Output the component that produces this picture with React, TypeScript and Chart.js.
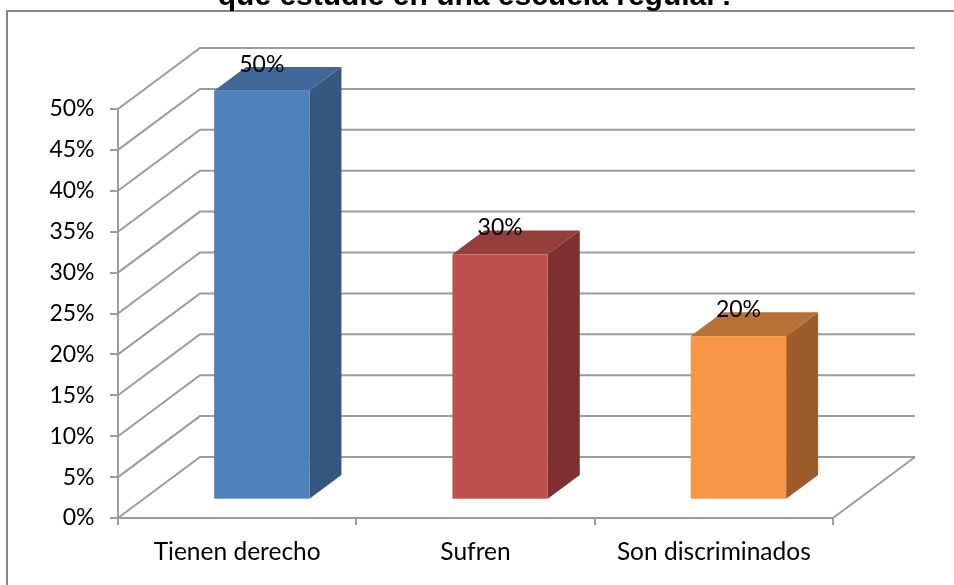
import React, { useEffect, useRef } from "react";
import { Chart, registerables } from "chart.js";

Chart.register(...registerables);

const titleText = "que estudie en una escuela regular?";
const categories = ["Tienen derecho", "Sufren", "Son discriminados"];
const values = [50, 30, 20];
const yMin = 0;
const yMax = 50;
const yStep = 5;
const frontColors = ["#4F81BD", "#C0504D", "#F79646"];
const topColors = ["#3F6797", "#943D3B", "#BA7135"];
const sideColors = ["#34567F", "#7D302F", "#9C5D2B"];

const FONT = "Lato, 'Open Sans', sans-serif";
const GRID = "#9c9c9c";
const DEPTH = { x: 82, y: -61 };
const BAR_FRONT = 0.3;
const BAR_BACK = 0.69;

const threeD = {
  id: "threeD",
  beforeDraw(chart: any) {
    const ctx = chart.ctx;
    ctx.save();
    ctx.fillStyle = "#ffffff";
    ctx.fillRect(0, 0, chart.width, chart.height);
    ctx.strokeStyle = "#868686";
    ctx.lineWidth = 2;
    ctx.strokeRect(7, 11, chart.width + 20, chart.height + 20);
    ctx.fillStyle = "#000";
    ctx.font = `bold 30px 'Liberation Sans', Arial, sans-serif`;
    ctx.textAlign = "center";
    ctx.textBaseline = "alphabetic";
    ctx.fillText(titleText, 477, 5);
    ctx.restore();
  },
  beforeDatasetsDraw(chart: any) {
    const ctx = chart.ctx;
    const ys = chart.scales.y;
    const a = chart.chartArea;
    ctx.save();
    ctx.strokeStyle = GRID;
    ctx.lineWidth = 2;
    ys.ticks.forEach((t: any) => {
      const py = ys.getPixelForValue(t.value);
      ctx.beginPath();
      ctx.moveTo(a.left, py);
      ctx.lineTo(a.left + DEPTH.x, py + DEPTH.y);
      ctx.lineTo(a.right + DEPTH.x, py + DEPTH.y);
      ctx.stroke();
    });
    ctx.beginPath();
    ctx.moveTo(a.right, a.bottom);
    ctx.lineTo(a.right + DEPTH.x, a.bottom + DEPTH.y);
    ctx.stroke();
    ctx.restore();
  },
  afterDatasetsDraw(chart: any) {
    const ctx = chart.ctx;
    const meta = chart.getDatasetMeta(0);
    const fx = DEPTH.x * BAR_FRONT;
    const fy = DEPTH.y * BAR_FRONT;
    const dx = DEPTH.x * (BAR_BACK - BAR_FRONT);
    const dy = DEPTH.y * (BAR_BACK - BAR_FRONT);
    ctx.save();
    meta.data.forEach((el: any, i: number) => {
      const p = el.getProps(["x", "y", "base", "width"], true);
      const l = p.x - p.width / 2 + fx;
      const r = p.x + p.width / 2 + fx;
      const t = p.y + fy;
      const b = p.base + fy;
      ctx.fillStyle = sideColors[i];
      ctx.beginPath();
      ctx.moveTo(r, t);
      ctx.lineTo(r + dx, t + dy);
      ctx.lineTo(r + dx, b + dy);
      ctx.lineTo(r, b);
      ctx.closePath();
      ctx.fill();
      ctx.fillStyle = topColors[i];
      ctx.beginPath();
      ctx.moveTo(l, t);
      ctx.lineTo(l + dx, t + dy);
      ctx.lineTo(r + dx, t + dy);
      ctx.lineTo(r, t);
      ctx.closePath();
      ctx.fill();
      ctx.fillStyle = frontColors[i];
      ctx.fillRect(l, t, r - l, b - t);
      ctx.fillStyle = "#000";
      ctx.font = `23px ${FONT}`;
      ctx.textAlign = "center";
      ctx.textBaseline = "alphabetic";
      ctx.fillText(values[i] + "%", (l + r) / 2, t - 19);
    });
    ctx.restore();
  },
};

export default function App() {
  const ref = useRef<HTMLCanvasElement | null>(null);
  useEffect(() => {
    if (!ref.current) return;
    const chart = new Chart(ref.current, {
      type: "bar",
      data: {
        labels: categories,
        datasets: [
          {
            data: values,
            backgroundColor: "rgba(0,0,0,0)",
            borderWidth: 0,
            barPercentage: 0.4,
            categoryPercentage: 1,
          },
        ],
      },
      options: {
        animation: false,
        responsive: false,
        devicePixelRatio: 1,
        layout: { padding: { top: 109, right: 121, left: 0, bottom: 0 } },
        plugins: { legend: { display: false }, tooltip: { enabled: false }, title: { display: false } },
        scales: {
          x: {
            afterFit: (s: any) => {
              s.height = 67;
            },
            grid: { drawOnChartArea: false, drawTicks: true, tickLength: 7, color: GRID, lineWidth: 2, offset: true },
            border: { display: true, color: GRID, width: 2 },
            ticks: { color: "#000", font: { family: FONT, size: 24.5 }, padding: 12, maxRotation: 0 },
          },
          y: {
            min: yMin,
            max: yMax,
            afterFit: (s: any) => {
              s.width = 118;
            },
            grid: { drawOnChartArea: false, drawTicks: true, tickLength: 8, color: GRID, lineWidth: 2 },
            border: { display: true, color: GRID, width: 2 },
            ticks: {
              stepSize: yStep,
              color: "#000",
              font: { family: FONT, size: 23 },
              padding: 15.5,
              callback: (v: any) => v + "%",
            },
          },
        },
      },
      plugins: [threeD],
    });
    return () => chart.destroy();
  }, []);
  return (
    <canvas
      ref={ref}
      width={954}
      height={585}
      style={{ position: "fixed", left: 0, top: 0, width: 954, height: 585, display: "block" }}
    />
  );
}
